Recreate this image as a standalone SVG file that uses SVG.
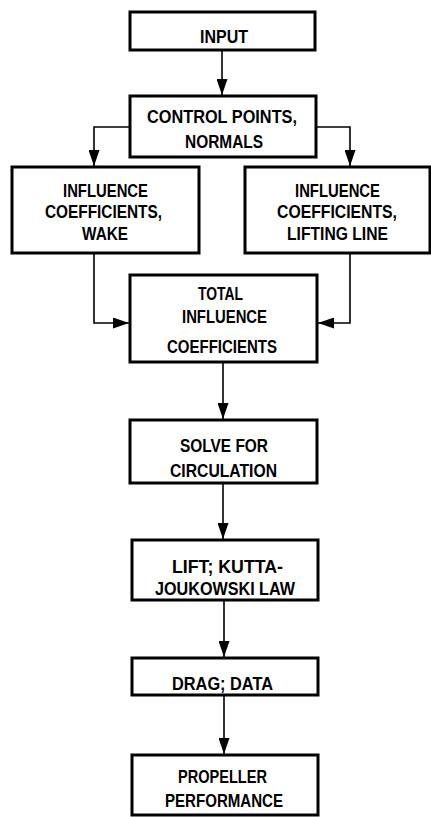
<svg xmlns="http://www.w3.org/2000/svg" width="431" height="817" viewBox="0 0 431 817">
<style>
.box{fill:#fff;stroke:#000;stroke-width:3}
.t{font-family:"Liberation Sans",Arial,sans-serif;font-weight:bold;font-size:18px;fill:#000;text-anchor:middle}
.c{fill:none;stroke:#000;stroke-width:1.6}
</style>
<defs>
<marker id="ah" markerUnits="userSpaceOnUse" markerWidth="16" markerHeight="11" refX="16" refY="5.5" orient="auto">
<path d="M0,0 L16,5.5 L0,11 Z" fill="#000"/>
</marker>
</defs>
<rect width="431" height="817" fill="#fff"/>
<g id="connectors">
<path class="c" d="M222,50 V95" marker-end="url(#ah)"/>
<path class="c" d="M129,127 H94 V166" marker-end="url(#ah)"/>
<path class="c" d="M316,127 H350 V166" marker-end="url(#ah)"/>
<path class="c" d="M94,253 V323 H129" marker-end="url(#ah)"/>
<path class="c" d="M350,253 V323 H318" marker-end="url(#ah)"/>
<path class="c" d="M223,362 V419" marker-end="url(#ah)"/>
<path class="c" d="M223,483 V539" marker-end="url(#ah)"/>
<path class="c" d="M224,600 V657" marker-end="url(#ah)"/>
<path class="c" d="M224,695 V754" marker-end="url(#ah)"/>
</g>
<g id="input">
<rect class="box" x="130" y="12" width="185" height="38"/>
<text class="t" x="224" y="43" textLength="48" lengthAdjust="spacingAndGlyphs">INPUT</text>
</g>
<g id="control">
<rect class="box" x="130" y="96" width="186" height="61"/>
<text class="t" x="222" y="123" textLength="150" lengthAdjust="spacingAndGlyphs">CONTROL POINTS,</text>
<text class="t" x="224" y="148" textLength="78" lengthAdjust="spacingAndGlyphs">NORMALS</text>
</g>
<g id="wake">
<rect class="box" x="12" y="167" width="187" height="86"/>
<text class="t" x="105.5" y="197" textLength="85" lengthAdjust="spacingAndGlyphs">INFLUENCE</text>
<text class="t" x="103.5" y="218" textLength="117" lengthAdjust="spacingAndGlyphs">COEFFICIENTS,</text>
<text class="t" x="105" y="240" textLength="46" lengthAdjust="spacingAndGlyphs">WAKE</text>
</g>
<g id="liftingline">
<rect class="box" x="245" y="167" width="185" height="86"/>
<text class="t" x="337.5" y="197" textLength="85" lengthAdjust="spacingAndGlyphs">INFLUENCE</text>
<text class="t" x="337" y="218" textLength="120" lengthAdjust="spacingAndGlyphs">COEFFICIENTS,</text>
<text class="t" x="337.5" y="240" textLength="101" lengthAdjust="spacingAndGlyphs">LIFTING LINE</text>
</g>
<g id="total">
<rect class="box" x="130" y="275" width="187" height="87"/>
<text class="t" x="220.5" y="300" textLength="45" lengthAdjust="spacingAndGlyphs">TOTAL</text>
<text class="t" x="224.5" y="323" textLength="85" lengthAdjust="spacingAndGlyphs">INFLUENCE</text>
<text class="t" x="222" y="353" textLength="110" lengthAdjust="spacingAndGlyphs">COEFFICIENTS</text>
</g>
<g id="solve">
<rect class="box" x="130" y="420" width="187" height="63"/>
<text class="t" x="224" y="452" textLength="88" lengthAdjust="spacingAndGlyphs">SOLVE FOR</text>
<text class="t" x="223.5" y="477" textLength="107" lengthAdjust="spacingAndGlyphs">CIRCULATION</text>
</g>
<g id="lift">
<rect class="box" x="132" y="540" width="186" height="60"/>
<text class="t" x="227.5" y="573" textLength="111" lengthAdjust="spacingAndGlyphs">LIFT; KUTTA-</text>
<text class="t" x="225" y="595" textLength="140" lengthAdjust="spacingAndGlyphs">JOUKOWSKI LAW</text>
</g>
<g id="drag">
<rect class="box" x="132" y="658" width="186" height="37"/>
<text class="t" x="222.5" y="690" textLength="101" lengthAdjust="spacingAndGlyphs">DRAG; DATA</text>
</g>
<g id="propeller">
<rect class="box" x="132" y="755" width="186" height="60"/>
<text class="t" x="222.5" y="783" textLength="89" lengthAdjust="spacingAndGlyphs">PROPELLER</text>
<text class="t" x="224" y="807" textLength="118" lengthAdjust="spacingAndGlyphs">PERFORMANCE</text>
</g>
</svg>
